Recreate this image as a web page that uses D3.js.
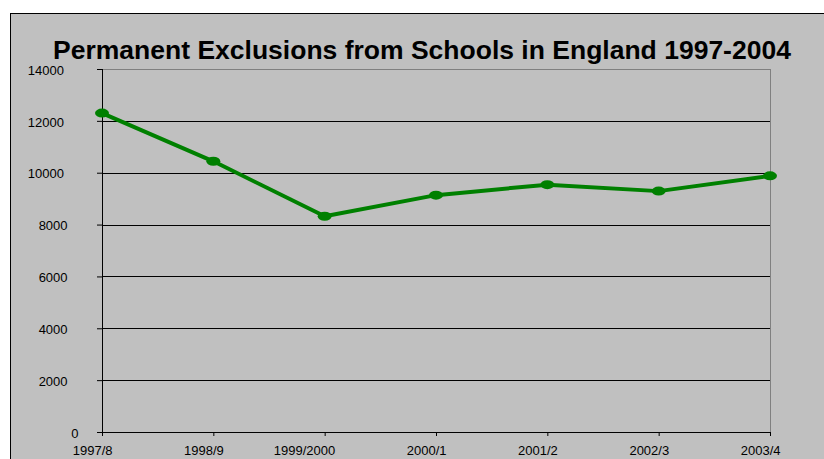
<!DOCTYPE html>
<html>
<head>
<meta charset="utf-8">
<script src="https://cdn.jsdelivr.net/npm/d3@7"></script>
<style>
body { margin: 0; background: #fff; }
text { font-family: "Liberation Sans", Arial, sans-serif; fill: #000; }
</style>
</head>
<body>
<div class="mainviz"></div>
<script>
var years = ["1997/8", "1998/9", "1999/2000", "2000/1", "2001/2", "2002/3", "2003/4"];
var exclusions = [12300, 10440, 8320, 9135, 9540, 9290, 9880];
var yTicks = [0, 2000, 4000, 6000, 8000, 10000, 12000, 14000];

var width = 824, height = 459;
var margin = { top: 69, right: 54, bottom: 27, left: 102 };
var plotwidth = width - margin.left - margin.right,
	plotheight = height - margin.top - margin.bottom;

var svg = d3.select(".mainviz").append("svg")
	.attr("width", width)
	.attr("height", height);

// chart area
svg.append("rect")
	.attr("x", 10.5).attr("y", 13.5)
	.attr("width", width).attr("height", height)
	.attr("fill", "#c0c0c0")
	.attr("stroke", "#000")
	.attr("stroke-width", 1);

svg.append("text")
	.attr("x", 422).attr("y", 59)
	.attr("text-anchor", "middle")
	.style("font-size", "26.5px")
	.style("font-weight", "bold")
	.text("Permanent Exclusions from Schools in England 1997-2004");

var chartGroup = svg.append("g")
	.attr("transform", "translate(" + margin.left + "," + margin.top + ")");

var x = d3.scalePoint()
	.domain(years)
	.range([0, plotwidth]);

var y = d3.scaleLinear()
	.domain([0, 14000])
	.range([plotheight, 0]);

// plot border (top/right) grey
chartGroup.append("rect")
	.attr("x", 0.5).attr("y", 0.5)
	.attr("width", plotwidth).attr("height", plotheight)
	.attr("fill", "none")
	.attr("stroke", "#808080");

// gridlines
chartGroup.selectAll("line.grid")
	.data(yTicks.filter(function(d){ return d > 0 && d < 14000; }))
	.enter().append("line")
	.attr("class", "grid")
	.attr("x1", 0).attr("x2", plotwidth)
	.attr("y1", function(d){ return Math.round(y(d)) + 0.5; })
	.attr("y2", function(d){ return Math.round(y(d)) + 0.5; })
	.attr("stroke", "#000")
	.attr("stroke-width", 1);

var yAxis = d3.axisLeft(y).tickValues(yTicks).tickSize(5).tickFormat(d3.format("d"));
var xAxis = d3.axisBottom(x).tickSize(4).tickPadding(10);

var yg = chartGroup.append("g")
	.attr("class", "axis y")
	.call(yAxis);
yg.select(".domain").attr("d", "M0.5," + plotheight + "V0");

var xg = chartGroup.append("g")
	.attr("class", "axis x")
	.attr("transform", "translate(0," + plotheight + ")")
	.call(xAxis);
xg.select(".domain").attr("d", "M0,0.5H" + plotwidth);

svg.selectAll(".axis text")
	.style("font-size", "13px")
	.style("font-family", "'Liberation Sans', Arial, sans-serif");
// labels in the original sit a bit off the ticks
yg.selectAll("text")
	.attr("text-anchor", "end")
	.attr("dy", "0.4em")
	.attr("x", function(){ return -20 - this.getComputedTextLength() / 2; });
xg.selectAll("text")
	.attr("text-anchor", "end")
	.attr("x", 10);
svg.selectAll(".axis line, .axis path").attr("stroke", "#000");

var line = d3.line()
	.x(function(d, i){ return x(years[i]); })
	.y(function(d){ return y(d); });

chartGroup.append("path")
	.attr("d", line(exclusions))
	.attr("fill", "none")
	.attr("stroke", "#008000")
	.attr("stroke-width", 4)
	.attr("stroke-linejoin", "round");

chartGroup.selectAll("ellipse.pt")
	.data(exclusions)
	.enter().append("ellipse")
	.attr("class", "pt")
	.attr("cx", function(d, i){ return x(years[i]); })
	.attr("cy", function(d){ return y(d); })
	.attr("rx", 7)
	.attr("ry", 4.5)
	.attr("fill", "#008000");
</script>
</body>
</html>
